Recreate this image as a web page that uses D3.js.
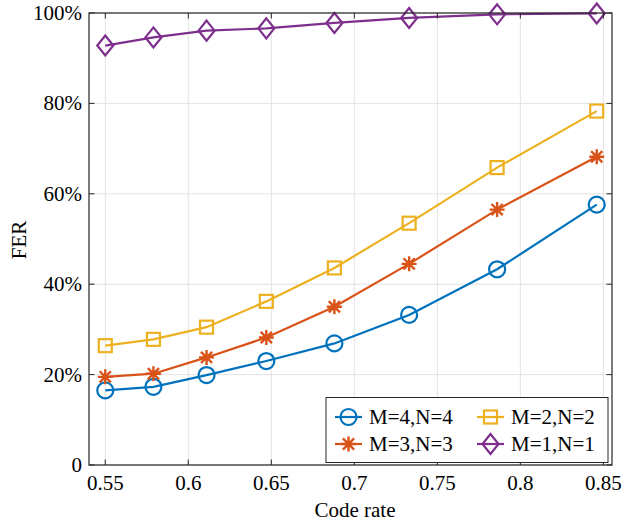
<!DOCTYPE html>
<html><head><meta charset="utf-8">
<script src="https://cdn.jsdelivr.net/npm/d3@7"></script>
<style>body{margin:0;background:#fff}svg{display:block}</style>
</head><body><svg id="c" width="623" height="527" font-family="'Liberation Serif','Times New Roman',serif"></svg>
<script>
const codeRates = [0.55, 0.579, 0.611, 0.647, 0.688, 0.733, 0.786, 0.846];
const ferM4 = [16.5, 17.3, 19.9, 23.0, 26.9, 33.2, 43.3, 57.6];
const ferM3 = [19.5, 20.2, 23.8, 28.2, 35.0, 44.5, 56.5, 68.2];
const ferM2 = [26.4, 27.8, 30.5, 36.2, 43.6, 53.5, 65.8, 78.3];
const ferM1 = [92.8, 94.6, 96.1, 96.6, 97.8, 98.9, 99.7, 99.9];
const xTicks = [0.55, 0.6, 0.65, 0.7, 0.75, 0.8, 0.85];
const yTicks = [0, 20, 40, 60, 80, 100];
const seriesNames = ["M=4,N=4", "M=3,N=3", "M=2,N=2", "M=1,N=1"];
const seriesColors = ["#0072BD", "#D95319", "#EDB120", "#7E2F8E"];
const seriesMarkers = ["circle", "asterisk", "square", "diamond"];

const FONT = "'Liberation Serif','Times New Roman',serif";
const svg = d3.select("#c");
const L = 89, R = 612, T = 13, B = 465;
const x = d3.scaleLinear().domain([0.5402, 0.8552]).range([L, R]);
const y = d3.scaleLinear().domain([0, 100]).range([B, T]);

const g = svg.append("g");
g.selectAll(".gx").data(xTicks).enter().append("line")
  .attr("x1", d => x(d)).attr("x2", d => x(d)).attr("y1", T).attr("y2", B)
  .attr("stroke", "#e3e3e3").attr("stroke-width", 1);
g.selectAll(".gy").data(yTicks).enter().append("line")
  .attr("x1", L).attr("x2", R).attr("y1", d => y(d)).attr("y2", d => y(d))
  .attr("stroke", "#e3e3e3").attr("stroke-width", 1);

function marker(sel, type, color) {
  if (type === "circle") {
    sel.append("circle").attr("r", 8).attr("fill", "none").attr("stroke", color).attr("stroke-width", 2.2);
  } else if (type === "square") {
    sel.append("rect").attr("x", -6.5).attr("y", -6.5).attr("width", 13).attr("height", 13)
      .attr("fill", "none").attr("stroke", color).attr("stroke-width", 2.2);
  } else if (type === "diamond") {
    sel.append("path").attr("d", "M0,-10L8,0L0,10L-8,0Z").attr("fill", "none").attr("stroke", color).attr("stroke-width", 2.2);
  } else {
    const r = 7.5, q = 5.6;
    const d = `M0,${-r}L0,${r}M${-r},0L${r},0M${-q},${-q}L${q},${q}M${-q},${q}L${q},${-q}`;
    sel.append("path").attr("d", d).attr("stroke", color).attr("stroke-width", 2.4).attr("fill", "none");
  }
}

const allSeries = [ferM4, ferM3, ferM2, ferM1];
const line = d3.line().x((d, i) => x(codeRates[i])).y(d => y(d));
allSeries.forEach((vals, s) => {
  svg.append("path").datum(vals).attr("d", line).attr("fill", "none")
    .attr("stroke", seriesColors[s]).attr("stroke-width", 2.2);
  vals.forEach((v, i) => {
    const m = svg.append("g").attr("transform", `translate(${x(codeRates[i])},${y(v)})`);
    marker(m, seriesMarkers[s], seriesColors[s]);
  });
});

const ax = svg.append("g");
ax.append("rect").attr("x", L).attr("y", T).attr("width", R - L).attr("height", B - T)
  .attr("fill", "none").attr("stroke", "#262626").attr("stroke-width", 1.2);
const tl = 5.5;
xTicks.forEach(t => {
  ax.append("line").attr("x1", x(t)).attr("x2", x(t)).attr("y1", B).attr("y2", B - tl).attr("stroke", "#262626");
  ax.append("line").attr("x1", x(t)).attr("x2", x(t)).attr("y1", T).attr("y2", T + tl).attr("stroke", "#262626");
  ax.append("text").attr("x", x(t)).attr("y", 490).attr("text-anchor", "middle")
    .attr("font-family", FONT).attr("font-size", 21).attr("fill", "#000").text(String(t));
});
yTicks.forEach(t => {
  ax.append("line").attr("x1", L).attr("x2", L + tl).attr("y1", y(t)).attr("y2", y(t)).attr("stroke", "#262626");
  ax.append("line").attr("x1", R).attr("x2", R - tl).attr("y1", y(t)).attr("y2", y(t)).attr("stroke", "#262626");
  ax.append("text").attr("x", 82).attr("y", y(t) + 7).attr("text-anchor", "end")
    .attr("font-family", FONT).attr("font-size", 21).attr("fill", "#000").text(t === 0 ? "0" : t + "%");
});
svg.append("text").attr("x", 355).attr("y", 517).attr("text-anchor", "middle")
  .attr("font-family", FONT).attr("font-size", 21).attr("fill", "#000").text("Code rate");
svg.append("text").attr("transform", "translate(26,240) rotate(-90)").attr("text-anchor", "middle")
  .attr("font-family", FONT).attr("font-size", 21).attr("fill", "#000").text("FER");

const lg = svg.append("g");
lg.append("rect").attr("x", 326).attr("y", 397.5).attr("width", 282).attr("height", 65)
  .attr("fill", "#fff").attr("stroke", "#262626").attr("stroke-width", 1);
const legendPos = [[335, 417], [335, 444], [477, 417], [477, 444]];
seriesNames.forEach((n, s) => {
  const [lx, ly] = legendPos[s];
  lg.append("line").attr("x1", lx).attr("x2", lx + 27).attr("y1", ly).attr("y2", ly)
    .attr("stroke", seriesColors[s]).attr("stroke-width", 2.2);
  const m = lg.append("g").attr("transform", `translate(${lx + 13.5},${ly})`);
  marker(m, seriesMarkers[s], seriesColors[s]);
  lg.append("text").attr("x", lx + 34).attr("y", ly + 7)
    .attr("font-family", FONT).attr("font-size", 21).attr("fill", "#000").text(n);
});
</script></body></html>
